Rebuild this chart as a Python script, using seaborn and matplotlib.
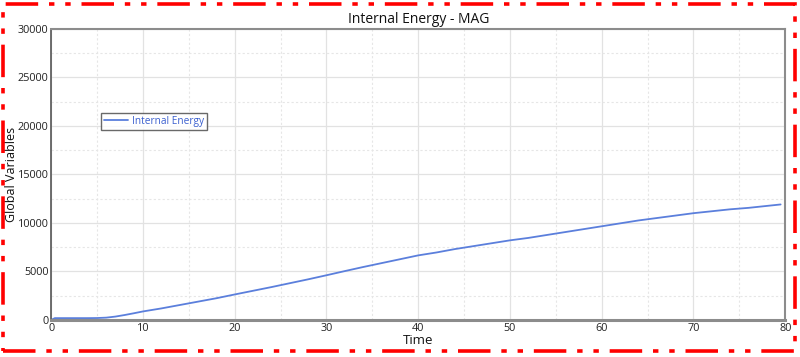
import numpy as np
import pandas as pd
import seaborn as sns
import matplotlib
matplotlib.use("Agg")
import matplotlib.pyplot as plt
from matplotlib.patches import Rectangle
from matplotlib.ticker import MultipleLocator

# values
time = [0, 0.4, 2, 4, 5, 6, 7, 8, 9, 10, 12, 14, 16, 18, 20, 22, 24, 26, 28, 30,
        32, 34, 36, 38, 40, 42, 44, 46, 48, 50, 52, 54, 56, 58, 60, 62, 64, 66,
        68, 70, 72, 74, 76, 78, 79.5]
energy = [0, 180, 180, 180, 190, 230, 340, 500, 680, 870, 1180, 1530, 1880, 2230,
          2620, 3000, 3380, 3780, 4180, 4600, 5030, 5450, 5850, 6250, 6650, 6950,
          7300, 7600, 7900, 8200, 8450, 8750, 9050, 9350, 9650, 9950, 10250, 10500,
          10750, 11000, 11200, 11400, 11550, 11750, 11900]
series_name = "Internal Energy"

df = pd.DataFrame({"Time": time, "Global Variables": energy, "series": series_name})

sns.set_style("whitegrid")
plt.rcParams['font.family'] = ['Open Sans', 'DejaVu Sans']

fig = plt.figure(figsize=(8, 3.57), dpi=100)
ax = fig.add_axes([0.064, 0.104, 0.9175, 0.815])

sns.lineplot(data=df, x="Time", y="Global Variables", hue="series",
             palette=["#5b7fdc"], linewidth=1.3, ax=ax)

ax.set_xlim(0, 80)
ax.set_ylim(0, 30000)
ax.xaxis.set_major_locator(MultipleLocator(10))
ax.xaxis.set_minor_locator(MultipleLocator(5))
ax.yaxis.set_major_locator(MultipleLocator(5000))
ax.yaxis.set_minor_locator(MultipleLocator(2500))
ax.grid(which="major", color="#e2e2e2", linewidth=0.9, linestyle="-")
ax.grid(which="minor", color="#e6e6e6", linewidth=0.8, linestyle=(0, (2, 2)))
ax.tick_params(axis="both", which="both", length=0, labelsize=7.8, pad=2, colors="#222222")

for side in ["top", "right"]:
    ax.spines[side].set_color("#8c8c8c")
    ax.spines[side].set_linewidth(1.5)
ax.spines["left"].set_color("#555555")
ax.spines["left"].set_linewidth(1.2)
ax.spines["bottom"].set_color("#8c8c8c")
ax.spines["bottom"].set_linewidth(2.2)

ax.set_title("Internal Energy - MAG", fontsize=10, pad=4, color="#111111")
ax.set_xlabel("Time", fontsize=9.5, labelpad=0, color="#111111")
ax.set_ylabel("Global Variables", fontsize=9, color="#111111")
ax.yaxis.set_label_coords(-0.045, 0.5)

leg = ax.legend(loc="upper left", bbox_to_anchor=(0.068, 0.711), fontsize=7.3,
                frameon=True, fancybox=False, shadow=False, borderpad=0.3,
                handlelength=2.4, handletextpad=0.35, borderaxespad=0)
leg.get_frame().set_edgecolor("#444444")
leg.get_frame().set_linewidth(1.0)
for txt in leg.get_texts():
    txt.set_color("#3a5fcf")

# red dash-dot frame around the figure
fig.patches.append(Rectangle((0.004, 0.018), 0.99, 0.97, transform=fig.transFigure,
                             fill=False, edgecolor="red", linewidth=2.6,
                             linestyle=(0, (9, 3, 1.5, 3, 1.5, 3))))

fig.savefig("out.png", dpi=100)
